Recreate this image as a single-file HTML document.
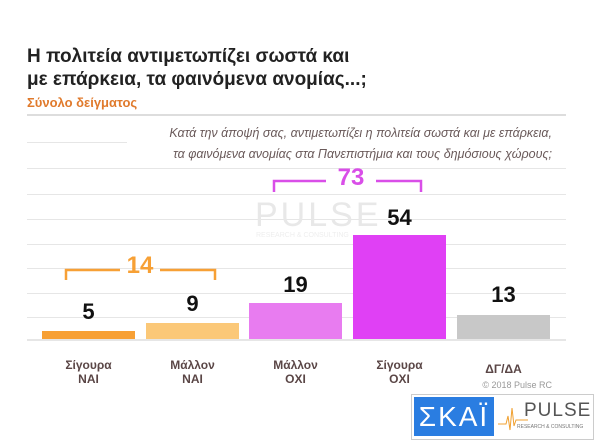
<!DOCTYPE html>
<html><head><meta charset="utf-8"><style>
body{margin:0;width:600px;height:440px;background:#fff;overflow:hidden;position:relative;font-family:"Liberation Sans",sans-serif}
.a{position:absolute}
.t{left:27px;font-size:19px;font-weight:bold;color:#222;white-space:nowrap}
.it{right:48px;font-size:12.5px;font-style:italic;color:#6a5a5a;white-space:nowrap}
.g{left:27px;width:539px;height:1px;background:#e6e6e6}
.bar{bottom:101px;width:93px}
.n{width:93px;text-align:center;font-size:22px;font-weight:bold;color:#111}
.c{width:93px;text-align:center;font-size:12px;font-weight:bold;color:#5a4646;line-height:14px}
</style></head><body>
<div class="a t" style="top:46px">Η πολιτεία αντιμετωπίζει σωστά και</div>
<div class="a t" style="top:69px">με επάρκεια, τα φαινόμενα ανομίας...;</div>
<div class="a" style="left:27px;top:95px;font-size:13px;font-weight:bold;color:#e07a2c">Σύνολο δείγματος</div>
<div class="a g" style="top:114px;height:2px;background:#ddd"></div>
<div class="a it" style="top:126px">Κατά την άποψή σας, αντιμετωπίζει η πολιτεία σωστά και με επάρκεια,</div>
<div class="a it" style="top:147px">τα φαινόμενα ανομίας στα Πανεπιστήμια και τους δημόσιους χώρους;</div>
<div class="a g" style="top:142px;left:27px;width:100px"></div>
<div class="a g" style="top:168px"></div>
<div class="a g" style="top:194px"></div>
<div class="a g" style="top:219px"></div>
<div class="a g" style="top:244px"></div>
<div class="a g" style="top:268px"></div>
<div class="a g" style="top:293px"></div>
<div class="a g" style="top:317px"></div>
<div class="a g" style="top:339px;height:2px"></div>
<div class="a" style="left:255px;top:196px;font-size:34px;color:#e8e8e8;letter-spacing:3px">PULSE</div>
<div class="a" style="left:256px;top:232px;font-size:7px;color:#eee">RESEARCH &amp; CONSULTING</div>
<div class="a bar" style="left:42px;height:8px;background:#f7a035"></div>
<div class="a bar" style="left:146px;height:16px;background:#fbc878"></div>
<div class="a bar" style="left:249px;height:36px;background:#e87cf0"></div>
<div class="a bar" style="left:353px;height:104px;background:#e040f5"></div>
<div class="a bar" style="left:457px;height:24px;background:#c8c8c8"></div>
<div class="a n" style="left:42px;top:299px">5</div>
<div class="a n" style="left:146px;top:291px">9</div>
<div class="a n" style="left:249px;top:272px">19</div>
<div class="a n" style="left:353px;top:205px">54</div>
<div class="a n" style="left:457px;top:282px">13</div>
<svg class="a" style="left:0;top:0" width="600" height="440">
<g stroke="#f7a035" stroke-width="2.5" fill="none"><path d="M66 280V270H120M160 270H215V280"/></g>
<g stroke="#d94ee8" stroke-width="2.5" fill="none"><path d="M274 192V181H326M376 181H421V192"/></g>
</svg>
<div class="a" style="left:110px;top:252px;width:60px;text-align:center;font-size:24px;font-weight:bold;color:#f7a035">14</div>
<div class="a" style="left:321px;top:164px;width:60px;text-align:center;font-size:24px;font-weight:bold;color:#d94ee8">73</div>
<div class="a c" style="left:42px;top:358px">Σίγουρα<br>ΝΑΙ</div>
<div class="a c" style="left:146px;top:358px">Μάλλον<br>ΝΑΙ</div>
<div class="a c" style="left:249px;top:358px">Μάλλον<br>ΟΧΙ</div>
<div class="a c" style="left:353px;top:358px">Σίγουρα<br>ΟΧΙ</div>
<div class="a c" style="left:457px;top:362px">ΔΓ/ΔΑ</div>
<div class="a" style="right:48px;top:380px;font-size:9px;color:#999">© 2018 Pulse RC</div>
<div class="a" style="left:411px;top:394px;width:181px;height:44px;border:1px solid #ccc;background:#fff"></div>
<div class="a" style="left:414px;top:397px;width:80px;height:39px;background:#2a7de1;color:#fff;font-size:28px;line-height:39px;text-align:center;letter-spacing:2px">ΣΚΑΪ</div>
<div class="a" style="left:524px;top:400px;font-size:19px;color:#555;letter-spacing:1px">PULSE</div>
<div class="a" style="left:517px;top:424px;font-size:5px;color:#777">RESEARCH &amp; CONSULTING</div>
<svg class="a" style="left:498px;top:402px" width="30" height="30"><path d="M0 22H8L10 14L12 28L14 6L16 24L18 18H30" stroke="#f0a030" fill="none" stroke-width="1"/></svg>
</body></html>
